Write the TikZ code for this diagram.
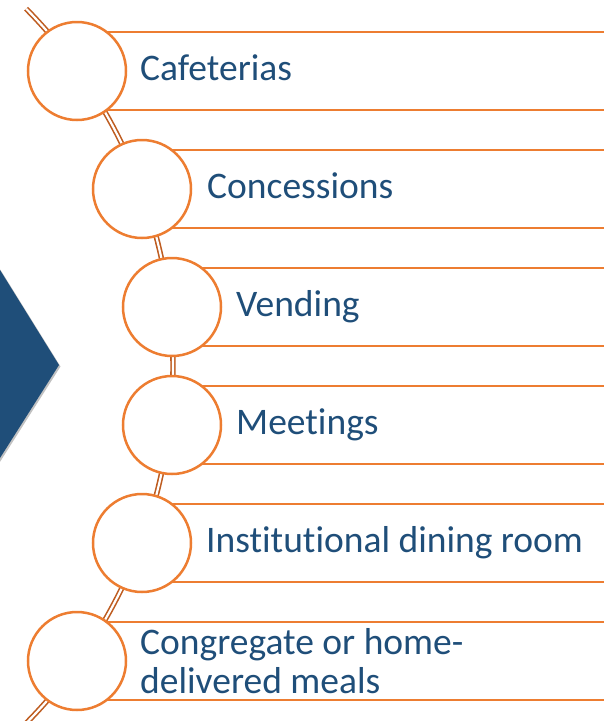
\documentclass[tikz,border=0pt]{standalone}
\usepackage{fontspec}
\setmainfont[RawFeature=-liga]{Carlito}
\usetikzlibrary{shadows}
\definecolor{navy}{RGB}{31,78,121}
\definecolor{orng}{RGB}{237,125,49}
\definecolor{brwn}{RGB}{190,92,32}
\tikzset{
  ring/.style={circle, draw=orng, line width=2.5pt, fill=white, minimum size=98pt, inner sep=0pt},
  rail/.style={draw=orng, line width=2.5pt},
  lbl/.style={anchor=base west, text=navy, font=\fontsize{37.5}{39}\selectfont, inner sep=0pt},
  spine/.style={draw=brwn, line width=1.6pt, double=white, double distance=2.2pt},
}
\begin{document}
\begin{tikzpicture}[x=1pt,y=-1pt]
\useasboundingbox (0,0) rectangle (604,721);
% chevron
\fill[navy, drop shadow={opacity=0.35, fill=black!70, shadow xshift=1.5pt, shadow yshift=-1.5pt}] (-10,255) -- (0,270) -- (59,365) -- (0,458) -- (-10,473) -- cycle;
% spine arc
\coordinate (arcstart) at ({-335+508*cos(44.7)},{366-508*sin(44.7)});
\draw[spine] (arcstart) arc[start angle=-44.7, end angle=45.5, radius=508];
% boxes
\foreach \cx/\cy [count=\i] in {77/71,142/189,172/307,172/425,142/543,77/661}{
  \coordinate (bt\i) at (\cx,\cy-39);
  \coordinate (bb\i) at (\cx,\cy+39);
  \coordinate (et\i) at (604,\cy-39);
  \coordinate (eb\i) at (604,\cy+39);
  \draw[rail] (bt\i) -- (et\i);
  \draw[rail] (bb\i) -- (eb\i);
  \node[ring] (c\i) at (\cx,\cy) {};
}
% labels
\node[lbl] (t1) at (140,80) {Cafeterias};
\node[lbl] (t2) at (207,198) {Concessions};
\node[lbl] (t3) at (236,316) {Vending};
\node[lbl] (t4) at (236,434) {Meetings};
\node[lbl] (t5) at (206,552) {Institutional dining room};
\node[lbl, anchor=north west, align=left] (t6) at (140,628) {Congregate or home-\\delivered meals};
\end{tikzpicture}
\end{document}
